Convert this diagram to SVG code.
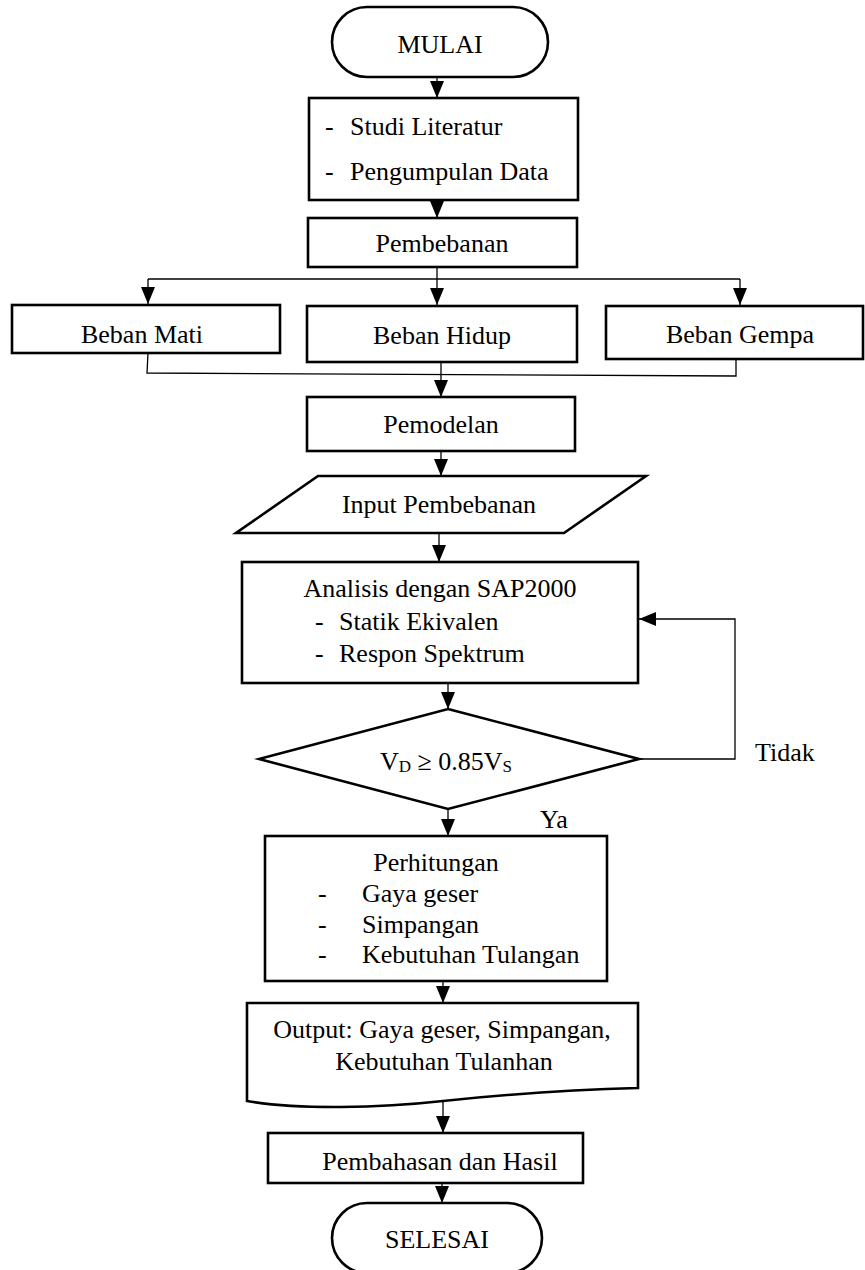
<svg xmlns="http://www.w3.org/2000/svg" width="865" height="1270" viewBox="0 0 865 1270">
<style>
.s{fill:#fff;stroke:#000;stroke-width:2.6}
.t{font-family:"Liberation Serif","Times New Roman",serif;font-size:26px;fill:#000}
.c{text-anchor:middle}
.l{fill:none;stroke:#000;stroke-width:1.3}
</style>
<defs>
<marker id="a" viewBox="0 0 17 14" refX="17" refY="7" markerWidth="17" markerHeight="14" markerUnits="userSpaceOnUse" orient="auto">
<path d="M0,0 L17,7 L0,14 z" fill="#000"/>
</marker>
</defs>
<rect width="865" height="1270" fill="#fff"/>
<g id="connectors">
<path class="l" d="M437,77 V98" marker-end="url(#a)"/>
<path class="l" d="M437,200 V218" marker-end="url(#a)"/>
<path class="l" d="M437,267 V305" marker-end="url(#a)"/>
<path class="l" d="M148,279 H740"/>
<path class="l" d="M148,279 V304" marker-end="url(#a)"/>
<path class="l" d="M740,279 V305" marker-end="url(#a)"/>
<path class="l" d="M148,353 L147,373 L736,376 V359"/>
<path class="l" d="M441,362 V397" marker-end="url(#a)"/>
<path class="l" d="M441,451 V476" marker-end="url(#a)"/>
<path class="l" d="M439,533 V562" marker-end="url(#a)"/>
<path class="l" d="M448,683 V709" marker-end="url(#a)"/>
<path class="l" d="M448,809 V836" marker-end="url(#a)"/>
<path class="l" d="M639,759 H735 V619 H639" marker-end="url(#a)"/>
<path class="l" d="M443,981 V1003" marker-end="url(#a)"/>
<path class="l" d="M443,1102 V1133" marker-end="url(#a)"/>
<path class="l" d="M442,1183 V1203" marker-end="url(#a)"/>
</g>
<g id="mulai">
<rect class="s" x="332" y="7" width="216" height="70" rx="35" ry="35"/>
<text class="t c" x="440" y="53">MULAI</text>
</g>
<g id="studi">
<rect class="s" x="309" y="98" width="269" height="102"/>
<text class="t" x="325" y="135">-</text>
<text class="t" x="350" y="135">Studi Literatur</text>
<text class="t" x="325" y="180">-</text>
<text class="t" x="350" y="180">Pengumpulan Data</text>
</g>
<g id="pembebanan">
<rect class="s" x="308" y="218" width="269" height="49"/>
<text class="t c" x="442" y="252">Pembebanan</text>
</g>
<g id="beban-mati">
<rect class="s" x="12" y="305" width="268" height="48"/>
<text class="t c" x="142" y="343" font-size="28">Beban Mati</text>
</g>
<g id="beban-hidup">
<rect class="s" x="307" y="306" width="270" height="56"/>
<text class="t c" x="442" y="344">Beban Hidup</text>
</g>
<g id="beban-gempa">
<rect class="s" x="606" y="306" width="257" height="53"/>
<text class="t c" x="740" y="343">Beban Gempa</text>
</g>
<g id="pemodelan">
<rect class="s" x="307" y="397" width="268" height="54"/>
<text class="t c" x="441" y="433">Pemodelan</text>
</g>
<g id="input">
<polygon class="s" points="318,476 646,476 564,533 236,533"/>
<text class="t c" x="439" y="513">Input Pembebanan</text>
</g>
<g id="analisis">
<rect class="s" x="242" y="562" width="396" height="121"/>
<text class="t c" x="440" y="597">Analisis dengan SAP2000</text>
<text class="t" x="315" y="630">-</text>
<text class="t" x="339" y="630">Statik Ekivalen</text>
<text class="t" x="315" y="662">-</text>
<text class="t" x="339" y="662">Respon Spektrum</text>
</g>
<g id="keputusan">
<polygon class="s" points="448,709 639,759 448,809 259,759"/>
<text class="t" x="380" y="770">V<tspan font-size="17" dy="2">D</tspan><tspan dy="-2"> ≥ 0.85V</tspan><tspan font-size="17" dy="2">S</tspan></text>
</g>
<g id="label-tidak">
<text class="t" x="755" y="761">Tidak</text>
</g>
<g id="label-ya">
<text class="t" x="540" y="828">Ya</text>
</g>
<g id="perhitungan">
<rect class="s" x="265" y="836" width="342" height="145"/>
<text class="t c" x="436" y="871">Perhitungan</text>
<text class="t" x="318" y="902">-</text>
<text class="t" x="362" y="902">Gaya geser</text>
<text class="t" x="318" y="933">-</text>
<text class="t" x="362" y="933">Simpangan</text>
<text class="t" x="318" y="963">-</text>
<text class="t" x="362" y="963">Kebutuhan Tulangan</text>
</g>
<g id="output">
<path class="s" d="M247,1003 H638 V1088 C560,1090 500,1095 443,1101 C380,1108 300,1110 247,1101 Z"/>
<text class="t c" x="442" y="1038">Output: Gaya geser, Simpangan,</text>
<text class="t c" x="444" y="1070">Kebutuhan Tulanhan</text>
</g>
<g id="pembahasan">
<rect class="s" x="268" y="1133" width="315" height="50"/>
<text class="t c" x="440" y="1170">Pembahasan dan Hasil</text>
</g>
<g id="selesai">
<rect class="s" x="332" y="1203" width="210" height="70" rx="35" ry="35"/>
<text class="t c" x="437" y="1248">SELESAI</text>
</g>
</svg>
